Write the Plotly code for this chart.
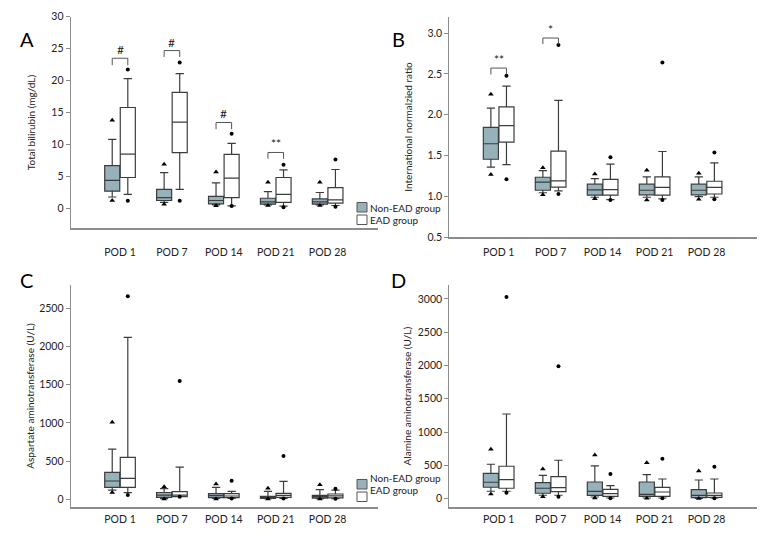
import plotly.graph_objects as go

# the page body adds an 8px margin, so the figure is 8px smaller than the window
OX, OY = 8, 8
W, H = 780 - OX, 540 - OY

pods = ["POD 1", "POD 7", "POD 14", "POD 21", "POD 28"]
groups = ["Non-EAD group", "EAD group"]

# A: total bilirubin (mg/dL)
tbil_non = dict(q1=[2.7, 1.25, 0.73, 0.68, 0.68], med=[4.4, 1.7, 1.25, 1.04, 1.04],
                q3=[6.7, 3.0, 1.9, 1.6, 1.5], lo=[1.8, 0.95, 0.57, 0.57, 0.57],
                hi=[10.8, 5.6, 4.0, 2.65, 2.5], out_hi=[13.8, 6.9, 5.7, 4.1, 4.1],
                out_lo=[1.25, 0.68, 0.42, 0.47, 0.47])
tbil_ead = dict(q1=[4.85, 8.75, 1.7, 0.95, 0.85], med=[8.5, 13.5, 4.75, 2.2, 1.35],
                q3=[15.8, 18.15, 8.45, 4.85, 3.25], lo=[2.2, 3.0, 0.42, 0.37, 0.47],
                hi=[20.3, 21.1, 10.2, 6.05, 6.1], out_hi=[21.75, 22.85, 11.7, 6.85, 7.65],
                out_lo=[1.2, 1.2, 0.4, 0.2, 0.26])
tbil_sig = dict(idx=[0, 1, 2, 3], top=[23.5, 24.7, 13.45, 8.76],
                leg=[22.4, 23.7, 12.4, 7.77], txt=["#", "#", "#", "**"])

# B: international normalized ratio
inr_non = dict(q1=[1.455, 1.076, 1.015, 1.02, 1.02], med=[1.645, 1.175, 1.08, 1.076, 1.076],
               q3=[1.845, 1.235, 1.15, 1.15, 1.15], lo=[1.36, 1.045, 0.99, 0.99, 0.998],
               hi=[2.08, 1.316, 1.218, 1.24, 1.24], out_hi=[2.25, 1.35, 1.276, 1.32, 1.284],
               out_lo=[1.27, 1.02, 0.973, 0.957, 0.966])
inr_ead = dict(q1=[1.664, 1.113, 1.015, 1.015, 1.03], med=[1.868, 1.19, 1.083, 1.11, 1.11],
               q3=[2.097, 1.554, 1.21, 1.24, 1.186], lo=[1.39, 1.067, 0.96, 0.97, 0.99],
               hi=[2.35, 2.175, 1.395, 1.55, 1.41], out_hi=[2.477, 2.853, 1.48, 2.64, 1.538],
               out_lo=[1.21, 1.03, 0.957, 0.957, 0.966])
inr_sig = dict(idx=[0, 1], top=[2.571, 2.939], leg=[2.493, 2.865], txt=["**", "*"])

# C: aspartate aminotransferase (U/L)
ast_non = dict(q1=[157, 25, 22, 13, 17], med=[240, 55, 50, 26, 35],
               q3=[353, 90, 74, 39, 52], lo=[120, 10, 12, 9, 8],
               hi=[658, 140, 157, 105, 127], out_hi=[1010, 165, 200, 144, 190],
               out_lo=[90, 5, 5, 5, 4])
ast_ead = dict(q1=[157, 35, 22, 26, 20], med=[275, 55, 44, 52, 45],
               q3=[550, 100, 74, 79, 70], lo=[87, 35, 13, 13, 10],
               hi=[2120, 423, 105, 236, 120], out_hi=[2657, 1549, 244, 567, 140],
               out_lo=[57, 35, 10, 10, 8])

# D: alanine aminotransferase (U/L)
alt_non = dict(q1=[171, 81, 50, 35, 15], med=[246, 156, 110, 65, 50],
               q3=[381, 240, 250, 250, 135], lo=[111, 51, 25, 10, 5],
               hi=[517, 351, 491, 361, 280], out_hi=[742, 446, 656, 541, 416],
               out_lo=[71, 30, 10, 5, 2])
alt_ead = dict(q1=[156, 105, 35, 35, 20], med=[286, 165, 75, 100, 50],
               q3=[487, 330, 140, 170, 85], lo=[111, 51, 10, 10, 10],
               hi=[1272, 577, 195, 295, 295], out_hi=[3030, 1988, 371, 601, 481],
               out_lo=[90, 30, 5, 5, 5])

NON_FILL = "#97b1bb"
FONT = "Lato, Roboto, sans-serif"
OFF = 0.15


def px_x(v):
    return (v - OX) / W


def px_y(v):
    return 1 - (v - OY) / H


fig = go.Figure()

panels = [
    ("x", "y", tbil_non, tbil_ead, tbil_sig),
    ("x2", "y2", inr_non, inr_ead, inr_sig),
    ("x3", "y3", ast_non, ast_ead, None),
    ("x4", "y4", alt_non, alt_ead, None),
]

for xa, ya, non, ead, sig in panels:
    for grp, off, fill, sym, msize in [(non, -OFF, NON_FILL, "triangle-up", 5),
                                        (ead, OFF, "white", "circle", 4)]:
        xs = [i + off for i in range(len(pods))]
        fig.add_trace(go.Box(
            x=xs, q1=grp["q1"], median=grp["med"], q3=grp["q3"],
            lowerfence=grp["lo"], upperfence=grp["hi"],
            width=0.29, whiskerwidth=0.55, fillcolor=fill,
            line=dict(color="#3c3c3c", width=1.2), boxpoints=False,
            xaxis=xa, yaxis=ya, showlegend=False, hoverinfo="skip"))
        fig.add_trace(go.Scatter(
            x=xs + xs, y=grp["out_hi"] + grp["out_lo"], mode="markers",
            marker=dict(symbol=sym, size=msize, color="black"),
            xaxis=xa, yaxis=ya, showlegend=False, hoverinfo="skip"))
    if sig:
        for i, top, leg, txt in zip(sig["idx"], sig["top"], sig["leg"], sig["txt"]):
            fig.add_trace(go.Scatter(
                x=[i - OFF, i - OFF, i + OFF, i + OFF], y=[leg, top, top, leg],
                mode="lines", line=dict(color="#555", width=1),
                xaxis=xa, yaxis=ya, showlegend=False, hoverinfo="skip"))
            fig.add_annotation(x=i, y=top, xref=xa, yref=ya, text=txt,
                               showarrow=False, yanchor="bottom", yshift=-1,
                               font=dict(size=12, color="#222", family=FONT))

# plot areas in window pixels: left, right, top, bottom
boxes = {
    "1": (70.7, 378, 16.7, 228.3),
    "2": (449.3, 757, 16.7, 237.3),
    "3": (70.7, 378, 285, 507),
    "4": (449.3, 757, 285, 507.3),
}
ranges = {"1": [-3.1, 30], "2": [0.5, 3.2], "3": [-100, 2805], "4": [-130, 3210]}
yticks = {"1": [0, 5, 10, 15, 20, 25, 30],
          "2": [0.5, 1.0, 1.5, 2.0, 2.5, 3.0],
          "3": [0, 500, 1000, 1500, 2000, 2500],
          "4": [0, 500, 1000, 1500, 2000, 2500, 3000]}
ytitles = {"1": "Total bilirubin (mg/dL)",
           "2": "International normalzied ratio",
           "3": "Aspartate aminotransferase (U/L)",
           "4": "Alamine aminotransferase (U/L)"}
xstandoff = {"1": 13, "2": 4, "3": 1, "4": 1}
ystandoff = {"1": 13, "2": 12, "3": 2, "4": 4}

layout = {}
for k, (l, r, t, b) in boxes.items():
    sx = "" if k == "1" else k
    layout["xaxis" + sx] = dict(
        domain=[px_x(l), px_x(r)], range=[-0.95, 4.97], anchor="y" + sx,
        tickvals=list(range(len(pods))), ticktext=pods, showgrid=False,
        zeroline=False, showline=True, linecolor="#8c8c8c", linewidth=2,
        ticks="", ticklabelstandoff=xstandoff[k], automargin=False,
        tickfont=dict(size=10.5, color="#222", family=FONT))
    layout["yaxis" + sx] = dict(
        domain=[px_y(b), px_y(t)], range=ranges[k], anchor="x" + sx,
        tickvals=yticks[k], tickformat=".1f" if k == "2" else "d",
        showgrid=False, zeroline=False, showline=True, linecolor="#8c8c8c",
        linewidth=1.2, ticks="outside", ticklen=4, tickcolor="#8c8c8c",
        automargin=False,
        tickfont=dict(size=10.5, color="#222", family=FONT),
        title=dict(text=ytitles[k], standoff=ystandoff[k],
                   font=dict(size=10, color="#222", family=FONT)))

fig.update_layout(
    width=W, height=H, margin=dict(l=0, r=0, t=0, b=0),
    paper_bgcolor="white", plot_bgcolor="white", showlegend=False,
    font=dict(family=FONT, color="#222"), **layout)

# panel letters
for letter, (x, y) in {"A": (18, 25), "B": (398, 25), "C": (18, 280), "D": (398, 280)}.items():
    fig.add_annotation(x=px_x(x), y=px_y(y), xref="paper", yref="paper", text=letter,
                       showarrow=False, font=dict(size=20, color="black", family=FONT))

# legends beside panels A and C
for top in (202.5, 479.5):
    for j, (name, fill) in enumerate(zip(groups, [NON_FILL, "white"])):
        y0 = top + j * 12.5
        fig.add_shape(type="rect", xref="paper", yref="paper",
                      x0=px_x(357), x1=px_x(367), y0=px_y(y0 + 9.5), y1=px_y(y0),
                      fillcolor=fill, line=dict(color="#555", width=1))
        fig.add_annotation(x=px_x(369), y=px_y(y0 + 5.2), xref="paper", yref="paper",
                           text=name, showarrow=False, xanchor="left", borderpad=0,
                           font=dict(size=10, color="#222", family=FONT))

fig.write_html("out.html")
